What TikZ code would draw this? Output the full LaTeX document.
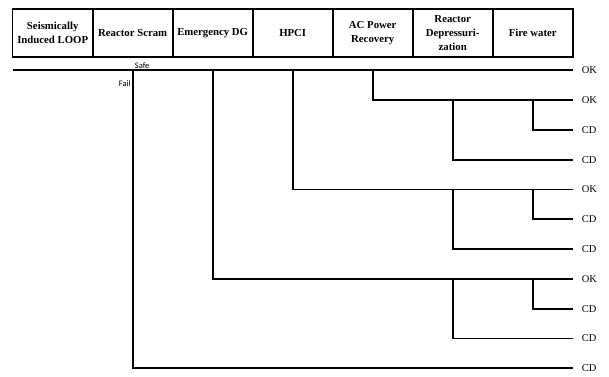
\documentclass[tikz,border=0pt]{standalone}
\usepackage{fontspec}
\setmainfont{Liberation Serif}
\newfontfamily\calfont{Carlito}
\usepackage{tikz}

\begin{document}
\begin{tikzpicture}[x=1bp,y=-1bp,
  head/.style={draw,line width=1.6bp,minimum width=80bp,minimum height=48bp,
               align=center,inner sep=1bp,font=\fontsize{10.8}{14}\selectfont\bfseries},
  br/.style={line width=1.6bp},
  endlbl/.style={anchor=west,inner xsep=9bp,inner ysep=1bp,font=\fontsize{10.5}{12}\selectfont},
  sflbl/.style={inner sep=1bp,font=\calfont\fontsize{8.5}{9}\selectfont}]
  \useasboundingbox (0,0) rectangle (609,376);

  % event headings
  \node[head] (loop)  at (52.7,33) {Seismically\\Induced LOOP};
  \node[head] (scram) at (132.7,33) {Reactor Scram};
  \node[head] (dg)    at (212.7,33) {Emergency DG};
  \node[head] (hpci)  at (292.7,33) {HPCI};
  \node[head] (acpr)  at (372.7,33) {AC Power\\Recovery};
  \node[head] (depr)  at (452.7,33) {Reactor\\Depressuri-\\zation};
  \node[head] (fire)  at (532.7,33) {Fire water};

  % end states
  \foreach \i/\y/\t in {0/70/OK,1/100/OK,2/130/CD,3/160/CD,4/189.5/OK,5/219/CD,
                        6/249/CD,7/279/OK,8/309/CD,9/338.5/CD,10/368/CD}
    \node[endlbl] (e\i) at (572.7,\y) {\t};

  % tree
  \coordinate (s0) at (12.7,70);
  \draw[br] (s0) -- (e0.west);
  \draw[br] (scram |- e0.west) |- (e10.west);
  \draw[br] (dg |- e0.west) |- (e7.west);
  \draw[br] (hpci |- e0.west) |- (e4.west);
  \draw[br] (acpr |- e0.west) |- (e1.west);
  \foreach \r/\a/\b in {1/3/2,4/6/5,7/9/8}{
    \draw[br] (depr |- e\r.west) |- (e\a.west);
    \draw[br] (fire |- e\r.west) |- (e\b.west);
  }

  \node[sflbl,anchor=south west] (safe) at ([xshift=1bp]scram |- s0) {Safe};
  \node[sflbl,anchor=east] (fail) at ([xshift=-1bp,yshift=-14bp]scram |- s0) {Fail};
\end{tikzpicture}
\end{document}
